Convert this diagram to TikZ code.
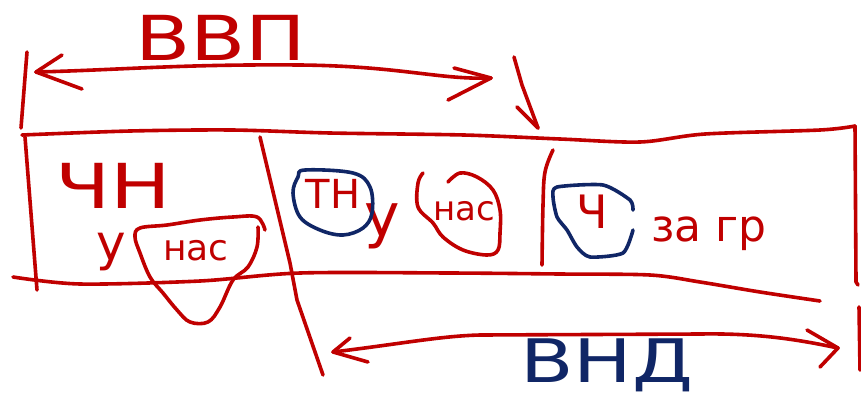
\documentclass[tikz,border=0pt]{standalone}
\usepackage{fontspec}
\setmainfont{DejaVu Sans}
\definecolor{inkred}{RGB}{192,0,0}
\definecolor{inkblue}{RGB}{16,38,102}
\begin{document}
\begin{tikzpicture}[x=1pt,y=-1pt,
  pen/.style={draw=inkred,line width=3.6pt,line cap=round,line join=round},
  bpen/.style={draw=inkblue,line width=3.6pt,line cap=round,line join=round},
  rtext/.style={text=inkred,inner sep=0pt,anchor=center},
  btext/.style={text=inkblue,inner sep=0pt,anchor=center}]
\useasboundingbox (0,0) rectangle (861,397);
\fill[white] (0,0) rectangle (861,397);

% texts
\node[rtext,font=\fontsize{62}{62}\selectfont] (vvp) at (221,38) {\scalebox{1.3}[1]{ВВП}};
\node[btext,font=\fontsize{60}{60}\selectfont] (vnd) at (607,365) {\scalebox{1.3}[1]{ВНД}};
\node[rtext,font=\fontsize{62}{62}\selectfont] (chn) at (113,186) {\scalebox{1.3}[1]{ЧН}};
\node[rtext,font=\fontsize{50}{50}\selectfont] (u1) at (111,252) {у};
\node[rtext,font=\fontsize{36}{36}\selectfont] (nas1) at (196,251) {нас};
\node[rtext,font=\fontsize{40}{40}\selectfont] (tn) at (333,194) {ТН};
\node[rtext,font=\fontsize{60}{60}\selectfont] (u2) at (382,226) {у};
\node[rtext,font=\fontsize{34}{34}\selectfont] (nas2) at (464,211) {нас};
\node[rtext,font=\fontsize{46}{46}\selectfont] (ch) at (592,212) {Ч};
\node[rtext,font=\fontsize{44}{44}\selectfont] (zagr) at (709,234) {за гр};

% top double arrow (ВВП)
\coordinate (tL) at (36,72);
\coordinate (tR) at (491,78);
\draw[pen] (tL) .. controls (120,70) and (180,64) .. (300,65) .. controls (400,66) and (440,80) .. (tR);
\draw[pen] (62,55) -- (tL) -- (82,89);
\draw[pen] (454,68) -- (tR) -- (448,100);
% left tick
\draw[pen] (27,52) -- (21,128);
% down arrow to the box
\coordinate (dA) at (538,128);
\draw[pen] (514,57) -- (522,85) -- (dA);
\draw[pen] (517,107) -- (dA);

% box top line
\draw[pen] plot[smooth,tension=0.5] coordinates {(22,135) (130,131) (232,130) (330,133) (464,135) (560,139) (640,142) (705,134) (820,130) (855,126)};
% right side
\draw[pen] (855,126) -- (856,282) -- (858,285);
\draw[pen] (859,307) -- (860,370);
% left side
\draw[pen] (25,137) -- (37,290);
% box bottom line
\draw[pen] plot[smooth,tension=0.5] coordinates {(13,277) (80,284) (200,281) (300,273) (450,273) (560,274) (650,275) (700,282) (760,292) (820,301)};
% dividers
\draw[pen] (260,137) -- (290,263) -- (297,300) -- (323,375);
\draw[pen] plot[smooth,tension=0.6] coordinates {(553,150) (545,172) (543,205) (542,265)};

% bottom double arrow (ВНД)
\coordinate (bL) at (333,352);
\coordinate (bR) at (838,348);
\draw[pen] (bL) .. controls (400,344) and (440,336) .. (480,335) -- (700,334) .. controls (760,333) and (800,340) .. (bR);
\draw[pen] (350,338) -- (bL) -- (368,362);
\draw[pen] (807,330) -- (bR) -- (820,367);

% loops
\draw[pen] plot[smooth,tension=0.6] coordinates {(265,230) (257,217) (233,217) (200,220) (167,225) (140,228) (135,237) (140,253) (150,277) (163,293) (177,310) (190,322) (208,322) (220,307) (233,280) (248,267) (257,247) (258,227)};
\draw[bpen] plot[smooth cycle,tension=0.6] coordinates {(305,170) (353,173) (370,187) (372,213) (363,228) (343,235) (320,230) (300,217) (293,193) (298,177)};
\draw[pen] plot[smooth,tension=0.6] coordinates {(423,173) (418,183) (418,207) (433,223) (443,237) (463,250) (487,255) (498,250) (500,233) (500,210) (493,190) (477,177) (460,173) (448,182)};
\draw[bpen] plot[smooth,tension=0.4] coordinates {(633,210) (630,200) (603,185) (557,187) (553,197) (557,217) (567,230) (577,247) (590,257) (623,253) (633,230)};
\end{tikzpicture}
\end{document}
